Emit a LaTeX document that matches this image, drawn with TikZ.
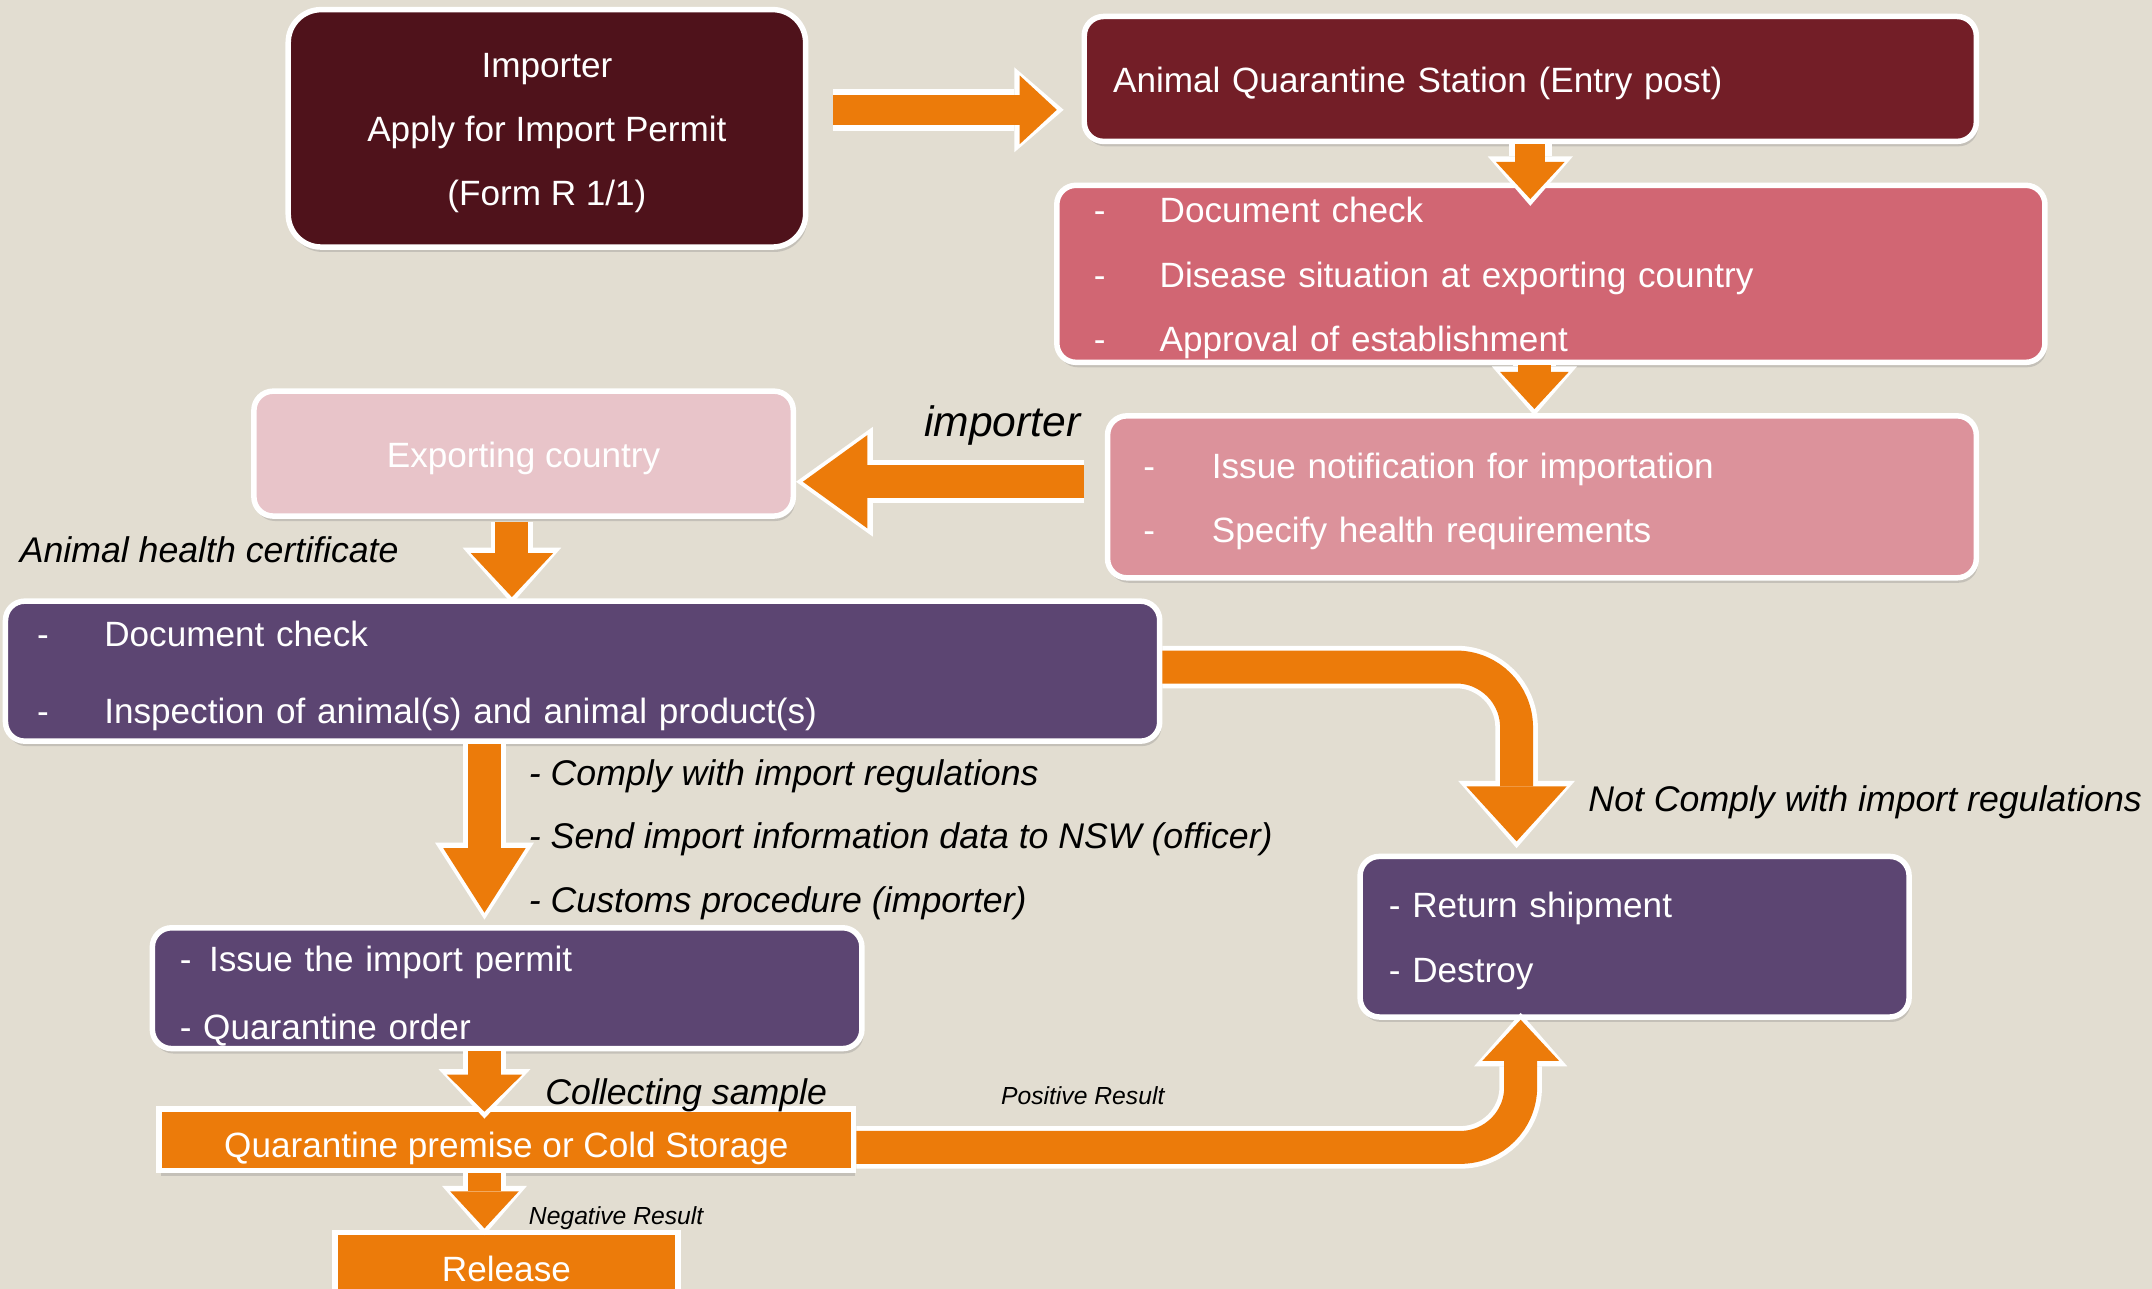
\documentclass[tikz,border=0pt]{standalone}
\usepackage{fontspec}
\setmainfont{Liberation Sans}
\usetikzlibrary{arrows.meta,shadows,calc}
\definecolor{bg}{RGB}{226,221,209}
\definecolor{maroonA}{RGB}{79,18,27}
\definecolor{maroonB}{RGB}{115,30,39}
\definecolor{pinkA}{RGB}{209,102,115}
\definecolor{pinkB}{RGB}{220,146,155}
\definecolor{pinkC}{RGB}{232,196,201}
\definecolor{purp}{RGB}{92,69,114}
\definecolor{orng}{RGB}{236,123,10}
\newcommand\dline[2]{\makebox[#1][l]{-}#2}
\newcommand\tup[1][12.5pt]{\rule{0pt}{#1}}
\tikzset{
 box/.style={draw=white, line width=2pt, rounded corners=7pt, text=white, inner ysep=0pt,
   drop shadow={shadow xshift=0.6pt, shadow yshift=-1.8pt, opacity=0.3},
   font=\fontsize{12.8}{23.5}\selectfont},
 lbox/.style={box, align=left},
 blk/.style n args={4}{line width=12pt, draw=orng,
   -{Triangle[width=#1, length=#2, line width=0pt]},
   preaction={draw=white, line width=15.5pt, shorten >=-2.5pt,
     -{Triangle[width=#3, length=#4, line width=0pt]}}},
 lab/.style={anchor=base west, inner sep=0pt, font=\fontsize{13}{15}\selectfont\itshape},
 slab/.style={lab, font=\fontsize{9}{11}\selectfont\itshape},
}
\begin{document}
\begin{tikzpicture}[x=0.5pt,y=-0.5pt]
\useasboundingbox (0,0) rectangle (1568,939);
\clip (0,0) rectangle (1568,939);
\fill[bg] (0,0) rectangle (1568,939);

% boxes
\node[box, fill=maroonA, rounded corners=12pt, minimum width=188.5pt, minimum height=86.5pt,
  align=center, font=\fontsize{12.8}{23.3}\selectfont] (imp) at (398.5,93.5)
  {\tup Importer\\Apply for Import Permit\\(Form R 1/1)};
\node[lbox, fill=maroonB, minimum height=45.5pt, inner xsep=10.5pt, text width=304pt] (aqs) at (1115,57.5)
  {\tup Animal Quarantine Station (Entry post)};
\node[lbox, fill=pinkA, minimum height=64.5pt, inner xsep=13.5pt, text width=333pt] (chk) at (1130,199.5)
  {\tup\dline{24pt}{Document check}\\\dline{24pt}{Disease situation at exporting country}\\\dline{24pt}{Approval of establishment}};
\node[lbox, fill=pinkB, minimum height=59pt, inner xsep=13pt, text width=290.5pt] (noti) at (1123.5,362)
  {\tup\dline{25pt}{Issue notification for importation}\\\dline{25pt}{Specify health requirements}};
\node[box, fill=pinkC, minimum width=196.5pt, minimum height=45.5pt] (exp) at (381.5,330.5)
  {\tup Exporting country};
\node[lbox, fill=purp, minimum height=51pt, inner xsep=11.5pt, text width=397.5pt,
  font=\fontsize{12.8}{28}\selectfont] (insp) at (424.5,489)
  {\tup\dline{24.5pt}{Document check}\\\dline{24.5pt}{Inspection of animal(s) and animal product(s)}};
\node[lbox, fill=purp, minimum height=44pt, inner xsep=10pt, text width=238.5pt,
  font=\fontsize{12.8}{24.5}\selectfont] (perm) at (369.5,720)
  {\tup[15pt]- \,Issue the import permit\\- Quarantine order};
\node[lbox, fill=purp, minimum height=58.5pt, inner xsep=10.5pt, text width=179pt] (ret) at (1191,682.5)
  {\tup- Return shipment\\- Destroy};
\node[box, rounded corners=0pt, fill=orng, minimum width=253pt, minimum height=22.5pt] (quar) at (369,830.5)
  {\tup[15.5pt]Quarantine premise or Cold Storage};
\node[box, rounded corners=0pt, fill=orng, minimum width=125pt, minimum height=25pt] (rel) at (369,923)
  {\tup[10.5pt]Release};

% arrows
\draw[blk={25pt}{13.5pt}{31pt}{18pt}, line width=11pt] ($(imp.east)+(18,-13.5)$) -- ($(aqs.west)+(-18,22.5)$);
\draw[blk={25pt}{13.5pt}{31pt}{18pt}, line width=11pt] (aqs.south) -- ($(aqs.south |- chk.north)+(0,12)$);
\draw[blk={25pt}{13.5pt}{31pt}{18pt}] ($(chk.south)+(-12,0)$) -- ($(chk.south |- noti.north)+(-12,-3)$);
\draw[blk={34pt}{23.5pt}{40pt}{28pt}] ($(noti.west)+(-15,-11)$) -- ($(exp.east)+(5,20.5)$);
\draw[blk={30pt}{16pt}{36pt}{20.5pt}] ($(exp.south)+(-8.5,2)$) -- ($(exp.south |- insp.north)+(-8.5,-1)$);
\draw[blk={30pt}{23.5pt}{36pt}{28pt}] ($(insp.south)+(-71.5,0)$) -- ($(insp.south |- perm.north)+(-71.5,-9)$);
\draw[blk={27.5pt}{13.5pt}{33.5pt}{18pt}] ($(perm.south)+(-16.5,0)$) -- ($(perm.south |- quar.north)+(-16.5,4)$);
\draw[blk={25pt}{13.5pt}{31pt}{18pt}] ($(quar.south)+(-16,0)$) -- ($(quar.south |- rel.north)+(-16,-1)$);
\draw[blk={36.5pt}{20pt}{42.5pt}{24.5pt}, rounded corners=22pt] ($(insp.east)+(0,-3)$) -| ($(ret.north)+(-86,-9)$);
\draw[blk={28pt}{15pt}{34pt}{19.5pt}, rounded corners=22pt] ($(quar.east)+(0,5.5)$) -| ($(ret.south)+(-83,0)$);

% labels
\node[lab, font=\fontsize{15.5}{18}\selectfont\itshape] (limp) at (673,318) {importer};
\node[lab] (lahc) at (14,410) {Animal health certificate};
\node[lab] (lc1) at (385,572) {- Comply with import regulations};
\node[lab] (lc2) at (385,618) {- Send import information data to NSW (officer)};
\node[lab] (lc3) at (385,665) {- Customs procedure (importer)};
\node[lab] (lnc) at (1157,591) {Not Comply with import regulations};
\node[lab] (lcs) at (397,805) {Collecting sample};
\node[slab] (lpos) at (729,805) {Positive Result};
\node[slab] (lneg) at (385,892) {Negative Result};
\end{tikzpicture}
\end{document}
